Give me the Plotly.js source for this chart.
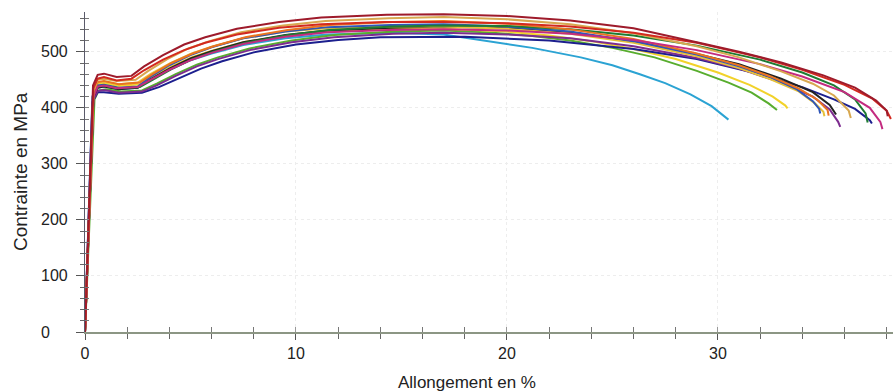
<!DOCTYPE html>
<html>
<head>
<meta charset="utf-8">
<script src="https://cdn.plot.ly/plotly-3.0.1.min.js"></script>
<style>html,body{margin:0;padding:0;background:#fff}#chart{width:893px;height:391px}</style>
</head>
<body>
<div id="chart"></div>
<script>
// ---- data (strain in %, stress in MPa) ----
const strain_darkred = [0,0.38,0.6,0.9,1.5,2.2,2.8,3.7,4.7,5.7,7.2,9.2,11.2,14.3,17,20,23,26,29,31,33,35,36.5,37.5,38.0,38.05];
const stress_darkred = [0,440,459,461,455,457,474,494,513,526,541,553,561,566,567,564,556,542,517,500,481,458,436,413,395,385];

const strain_tan = [0,0.4,0.6,0.9,1.5,2.4,3.0,3.9,4.9,5.9,7.4,9.4,11.4,14.4,17,20,23,26,29,31,33,34.5,35.5,36.2,36.3];
const stress_tan = [0,430,450,452,448,450,466,487,506,519,535,547,555,560,562,558,549,533,510,490,465,443,422,395,382];

const strain_orange = [0,0.4,0.6,0.9,1.6,2.6,3.2,4.1,5.1,6.1,7.6,9.6,11.6,14.6,17,20,23,26,29,31,32.5,33.8,34.7,35.2,35.25];
const stress_orange = [0,428,446,448,442,445,460,480,497,510,526,539,548,553,555,550,540,523,497,476,456,435,415,396,386];

const strain_red = [0,0.4,0.6,0.9,1.5,2.2,2.8,3.7,4.7,5.7,7.2,9.2,11.2,14.2,17,20,23,26,29,32,34,36,37.3,38.0,38.2];
const stress_red = [0,435,452,455,449,452,467,486,503,516,531,543,549,553,553,551,545,534,516,490,468,441,417,395,380];

const strain_blue = [0,0.35,0.55,0.9,1.6,2.5,3.1,4.0,5.0,6.0,7.5,9.5,11.5,14.5,17,20,23,26,29,31,32.5,33.7,34.5,34.8,34.85];
const stress_blue = [0,420,440,441,436,438,455,476,494,508,524,536,544,548,549,545,536,519,495,474,455,434,412,398,390];

const strain_darkgreen = [0,0.4,0.6,0.9,1.6,2.6,3.2,4.1,5.1,6.1,7.6,9.6,11.6,14.6,17,20,23,26,29,32,34,35.5,36.5,37.0,37.1];
const stress_darkgreen = [0,422,438,440,435,437,450,469,487,500,516,530,539,545,547,546,540,529,511,486,463,440,415,390,374];

const strain_black = [0,0.4,0.6,0.9,1.6,2.5,3.1,4.0,5.0,6.0,7.5,9.5,11.5,14.5,17,20,23,26,29,31,33,34.5,35.3,35.6];
const stress_black = [0,420,436,438,433,436,451,470,488,501,517,530,538,543,545,542,534,519,496,478,452,428,405,388];

const strain_yellow = [0,0.4,0.6,0.9,1.6,2.6,3.2,4.1,5.1,6.1,7.6,9.6,11.6,14.6,17,20,22,24,26,28,30,31.5,32.6,33.2,33.3];
const stress_yellow = [0,425,443,444,439,442,456,474,491,503,518,529,537,541,541,536,529,519,505,487,463,441,420,404,399];

const strain_green = [0,0.45,0.65,1.0,1.7,2.7,3.4,4.3,5.3,6.3,7.8,9.8,11.8,14.7,17,19,21,23,25,27,29,30.5,31.6,32.4,32.8];
const stress_green = [0,415,431,433,429,431,443,460,477,490,506,520,530,536,538,535,529,520,507,490,466,445,427,408,396];

const strain_purple = [0,0.4,0.6,0.9,1.6,2.7,3.4,4.3,5.3,6.3,7.8,9.8,11.8,14.6,17,20,23,26,29,31,33,34.5,35.3,35.7,35.8];
const stress_purple = [0,415,430,432,427,429,440,457,474,487,503,517,526,532,534,531,524,510,489,470,445,420,397,375,366];

const strain_navy = [0,0.35,0.6,0.9,1.6,2.7,3.5,4.4,5.5,6.5,8,10,12,14,16,18,22,26,29,32,34,35.5,36.5,37.2,37.3];
const stress_navy = [0,410,428,428,425,427,437,452,470,483,499,513,521,526,527,527,520,505,487,460,437,415,398,378,372];

const strain_magenta = [0,0.4,0.6,0.9,1.5,2.5,3.1,4.0,5.0,6.0,7.5,9.5,11.5,14.4,17,20,23,26,29,32,34,36,37.2,37.7,37.8];
const stress_magenta = [0,420,438,440,435,437,450,468,485,498,514,527,535,539,540,538,532,521,503,478,456,428,400,375,362];

const strain_cyan = [0,0.4,0.6,0.9,1.6,2.5,3.1,4.0,5.0,6.0,7.5,9.5,11.5,14.5,17,19.2,21.2,23.5,25,26.3,27.5,28.7,29.7,30.5];
const stress_cyan = [0,420,436,438,433,436,450,468,485,497,512,524,531,534,531,519,507,490,476,460,444,424,403,379];

const strain_gold = [0,0.4,0.6,0.9,1.6,2.5,3.1,4.0,5.0,6.0,7.5,9.5,11.5,14.5,17,20,23,26,29,31,32.5,33.8,34.6,35.0,35.05];
const stress_gold = [0,428,445,447,442,445,460,479,496,509,524,536,542,545,545,541,532,516,492,471,451,430,408,393,385];

const seriesNames = ['cyan','green','yellow','navy','purple','black','gold','blue','darkgreen','orange','magenta','tan','red','darkred'];
const seriesColors = ['#2ba3d3','#58ad2e','#f2d22a','#1c1f8e','#7d2c8f','#222222','#e6c13a','#2f56b8','#1e7b32','#ea7420','#c42b80','#d8a850','#d32a1f','#9e1b2b'];
const seriesStrain = [strain_cyan,strain_green,strain_yellow,strain_navy,strain_purple,strain_black,strain_gold,strain_blue,strain_darkgreen,strain_orange,strain_magenta,strain_tan,strain_red,strain_darkred];
const seriesStress = [stress_cyan,stress_green,stress_yellow,stress_navy,stress_purple,stress_black,stress_gold,stress_blue,stress_darkgreen,stress_orange,stress_magenta,stress_tan,stress_red,stress_darkred];

const yTickValues = [0,100,200,300,400,500];
const yTickLabels = ['0','100','200','300','400','500'];
const xTickValues = [0,10,20,30];
const xTickLabels = ['0','10','20','30'];
const xTitle = 'Allongement en %';
const yTitle = 'Contrainte en MPa';

// ---- build ----
const traces = seriesNames.map((n,i)=>({
  type:'scatter', mode:'lines', name:n,
  x:seriesStrain[i], y:seriesStress[i],
  line:{color:seriesColors[i], width:2},
  hoverinfo:'skip'
}));
// helper (invisible) trace so the overlay axes for crossing ticks are drawn
traces.push({type:'scatter', mode:'lines', x:[0], y:[0], xaxis:'x2', yaxis:'y2', line:{width:0}, showlegend:false, hoverinfo:'skip'});

const FONT = 'Liberation Sans, Arial, sans-serif';
const XR = [0, 38.3], YR = [0, 571];

const annotations = yTickValues.map((v,i)=>({
  xref:'paper', yref:'y', x:(39-85)/808, y:v, text:yTickLabels[i],
  xanchor:'left', yanchor:'middle', showarrow:false,
  font:{family:FONT, size:16, color:'#222'}
}));
annotations.push({xref:'paper', yref:'paper', x:(467-85)/808, y:(332-382)/320, text:xTitle, xanchor:'center', yanchor:'middle', showarrow:false, font:{family:FONT, size:17, color:'#222'}});
annotations.push({xref:'paper', yref:'paper', x:(20-85)/808, y:0.5, text:yTitle, textangle:-90, xanchor:'center', yanchor:'middle', showarrow:false, font:{family:FONT, size:19, color:'#222'}});

const layout = {
  width:893, height:391,
  margin:{l:85, r:0, t:12, b:59},
  paper_bgcolor:'#ffffff', plot_bgcolor:'#ffffff',
  showlegend:false,
  font:{family:FONT, size:16, color:'#222'},
  xaxis:{range:XR, tickvals:xTickValues, ticktext:xTickLabels, ticks:'outside', ticklen:6, tickcolor:'#555',
    showline:true, linecolor:'#8c9684', linewidth:1.5, zeroline:false,
    showgrid:true, gridcolor:'#ededed', griddash:'dot', gridwidth:1,
    minor:{dtick:2, tick0:0, ticks:'outside', ticklen:5, tickcolor:'#666', showgrid:false},
    tickfont:{family:FONT, size:16, color:'#222'}},
  yaxis:{range:YR, tickvals:yTickValues, showticklabels:false, ticks:'outside', ticklen:8, tickcolor:'#555',
    showline:true, linecolor:'#5a5a6a', linewidth:1.2, zeroline:false,
    showgrid:true, gridcolor:'#ededed', griddash:'dot', gridwidth:1,
    minor:{dtick:20, tick0:0, ticks:'outside', ticklen:4, tickcolor:'#666', showgrid:false}},
  xaxis2:{range:XR, overlaying:'x', tickvals:xTickValues, showticklabels:false, ticks:'inside', ticklen:5, tickcolor:'#999',
    showline:false, showgrid:false, zeroline:false,
    minor:{dtick:2, tick0:0, ticks:'inside', ticklen:5, tickcolor:'#777', showgrid:false}},
  yaxis2:{range:YR, overlaying:'y', tickvals:yTickValues, showticklabels:false, ticks:'inside', ticklen:4, tickcolor:'#888',
    showline:false, showgrid:false, zeroline:false,
    minor:{dtick:20, tick0:0, ticks:'inside', ticklen:4, tickcolor:'#777', showgrid:false}},
  annotations:annotations
};

Plotly.newPlot('chart', traces, layout, {staticPlot:true, displayModeBar:false});
</script>
</body>
</html>
